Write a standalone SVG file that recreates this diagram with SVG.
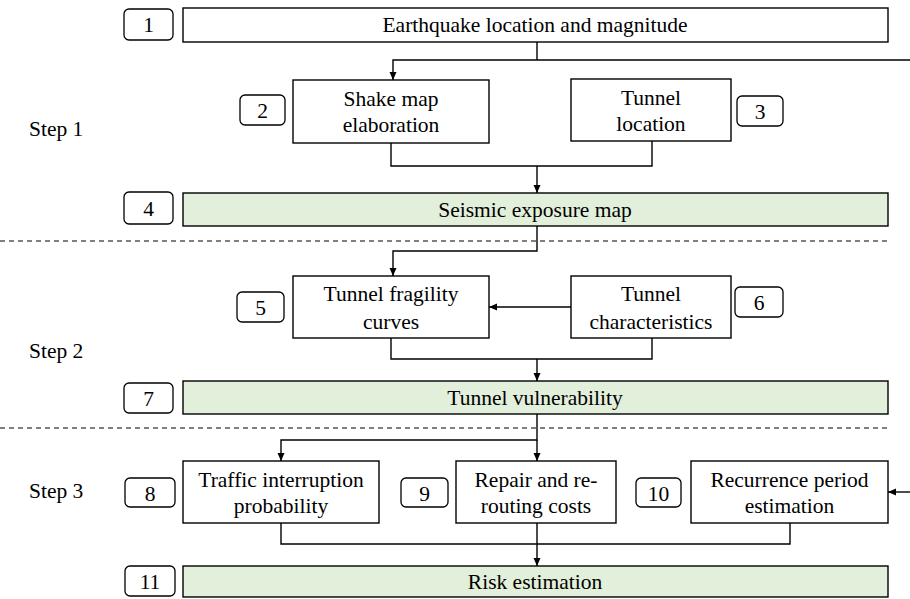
<svg xmlns="http://www.w3.org/2000/svg" width="910" height="599" viewBox="0 0 910 599">
<defs>
<marker id="ah" markerWidth="10" markerHeight="10" refX="9" refY="5" orient="auto" markerUnits="userSpaceOnUse">
<path d="M1,1.5 L9,5 L1,8.5 Z" fill="#000"/>
</marker>
<style>
.box{fill:#fff;stroke:#000;stroke-width:1.4}
.g{fill:#e2efda;stroke:#000;stroke-width:1.4}
.tag{fill:#fff;stroke:#000;stroke-width:1.3}
text{font-family:'Liberation Serif','DejaVu Serif',serif;font-size:21.5px;fill:#000;text-anchor:middle}
.st{text-anchor:start}
.ln{fill:none;stroke:#000;stroke-width:1.4}
.dash{fill:none;stroke:#000;stroke-width:1.2;stroke-dasharray:5,4}
</style>
</defs>
<rect width="910" height="599" fill="#fff"/>
<g id="steps">
<text class="st" x="29" y="136">Step 1</text>
<text class="st" x="29" y="358">Step 2</text>
<text class="st" x="29" y="498">Step 3</text>
</g>
<g id="separators">
<line class="dash" x1="0" y1="241" x2="890" y2="241"/>
<line class="dash" x1="0" y1="428" x2="890" y2="428"/>
</g>
<g id="n1"><rect class="tag" x="124" y="9" width="49" height="31" rx="5"/><text x="148.5" y="32">1</text>
<rect class="box" x="183" y="8" width="705" height="34"/><text x="535" y="32">Earthquake location and magnitude</text></g>
<g id="n2"><rect class="tag" x="240" y="95" width="45" height="30" rx="5"/><text x="262.5" y="118">2</text>
<rect class="box" x="293" y="80" width="196" height="63"/><text x="391" y="106">Shake map</text><text x="391" y="132">elaboration</text></g>
<g id="n3"><rect class="tag" x="737" y="96" width="46" height="30" rx="5"/><text x="760" y="119">3</text>
<rect class="box" x="571" y="79" width="160" height="62"/><text x="651" y="105">Tunnel</text><text x="651" y="131">location</text></g>
<g id="n4"><rect class="tag" x="124" y="192" width="49" height="32" rx="5"/><text x="148.5" y="216">4</text>
<rect class="g" x="183" y="193" width="705" height="33"/><text x="535" y="217">Seismic exposure map</text></g>
<g id="n5"><rect class="tag" x="237" y="292" width="47" height="30" rx="5"/><text x="260.5" y="315">5</text>
<rect class="box" x="293" y="276" width="196" height="62"/><text x="391" y="301">Tunnel fragility</text><text x="391" y="329">curves</text></g>
<g id="n6"><rect class="tag" x="735" y="287" width="48" height="30" rx="5"/><text x="759" y="310">6</text>
<rect class="box" x="571" y="276" width="160" height="62"/><text x="651" y="301">Tunnel</text><text x="651" y="329">characteristics</text></g>
<g id="n7"><rect class="tag" x="124" y="383" width="49" height="30" rx="5"/><text x="148.5" y="406">7</text>
<rect class="g" x="183" y="381" width="705" height="33"/><text x="535" y="405">Tunnel vulnerability</text></g>
<g id="n8"><rect class="tag" x="125" y="478" width="50" height="29" rx="5"/><text x="150" y="501">8</text>
<rect class="box" x="183" y="461" width="196" height="62"/><text x="281" y="487">Traffic interruption</text><text x="281" y="513">probability</text></g>
<g id="n9"><rect class="tag" x="401" y="478" width="47" height="29" rx="5"/><text x="424.5" y="501">9</text>
<rect class="box" x="456" y="461" width="160" height="62"/><text x="536" y="487">Repair and re-</text><text x="536" y="513">routing costs</text></g>
<g id="n10"><rect class="tag" x="636" y="478" width="45" height="29" rx="5"/><text x="658.5" y="501">10</text>
<rect class="box" x="691" y="461" width="197" height="62"/><text x="789.5" y="487">Recurrence period</text><text x="789.5" y="513">estimation</text></g>
<g id="n11"><rect class="tag" x="125" y="566" width="50" height="30" rx="5"/><text x="150" y="589">11</text>
<rect class="g" x="183" y="566" width="705" height="31"/><text x="535" y="589">Risk estimation</text></g>
<g id="connectors">
<polyline class="ln" points="537,42 537,60"/>
<polyline class="ln" points="910,60 393,60 393,80" marker-end="url(#ah)"/>
<polyline class="ln" points="391,143 391,166 652,166 652,141"/>
<polyline class="ln" points="537,166 537,193" marker-end="url(#ah)"/>
<polyline class="ln" points="537,226 537,251 393,251 393,276" marker-end="url(#ah)"/>
<polyline class="ln" points="571,307 489,307" marker-end="url(#ah)"/>
<polyline class="ln" points="391,338 391,359 652,359 652,338"/>
<polyline class="ln" points="537,359 537,381" marker-end="url(#ah)"/>
<polyline class="ln" points="537,414 537,440 281,440 281,461" marker-end="url(#ah)"/>
<polyline class="ln" points="537,440 537,461" marker-end="url(#ah)"/>
<polyline class="ln" points="910,492 888,492" marker-end="url(#ah)"/>
<polyline class="ln" points="281,523 281,544 790,544 790,523"/>
<polyline class="ln" points="537,523 537,566" marker-end="url(#ah)"/>
</g>
</svg>
